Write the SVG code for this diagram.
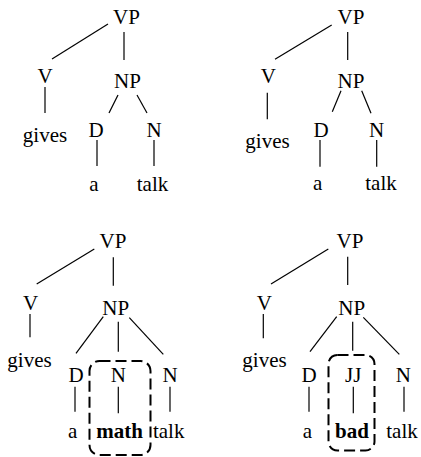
<svg xmlns="http://www.w3.org/2000/svg" width="421" height="457" viewBox="0 0 421 457">
<style>
text{font-family:'Times New Roman',Times,'Liberation Serif','DejaVu Serif','Noto Serif',Tinos,FreeSerif,serif;font-size:21px;fill:#000;text-anchor:middle}
.b{font-weight:bold}
.e line{stroke:#000;stroke-width:1.2}
.box{fill:none;stroke:#000;stroke-width:2;stroke-dasharray:11,5}
</style>
<rect width="421" height="457" fill="#fff"/>
<g id="edges" class="e">
<line x1="108" y1="24" x2="52" y2="59"/>
<line x1="124" y1="32" x2="124" y2="60"/>
<line x1="45" y1="87" x2="45" y2="113"/>
<line x1="118" y1="95" x2="109" y2="113"/>
<line x1="137" y1="95" x2="147" y2="113"/>
<line x1="97" y1="140" x2="97" y2="166"/>
<line x1="154" y1="140" x2="154" y2="166"/>

<line x1="331.7" y1="25" x2="275" y2="59.3"/>
<line x1="347.7" y1="32" x2="347.7" y2="60"/>
<line x1="267.3" y1="92.7" x2="267.3" y2="119.3"/>
<line x1="341" y1="90.7" x2="332.3" y2="111.7"/>
<line x1="361.7" y1="90.7" x2="371" y2="113.3"/>
<line x1="320" y1="140" x2="320" y2="166.7"/>
<line x1="376.7" y1="140" x2="376.7" y2="166.7"/>

<line x1="94.3" y1="249" x2="36.7" y2="284"/>
<line x1="113.3" y1="257.3" x2="113.3" y2="285.7"/>
<line x1="30" y1="314" x2="30" y2="337.3"/>
<line x1="103.3" y1="316.7" x2="76" y2="353.3"/>
<line x1="118.3" y1="321.7" x2="118.3" y2="351.7"/>
<line x1="129.3" y1="317.7" x2="163.3" y2="354.3"/>
<line x1="75" y1="386.7" x2="75" y2="411.7"/>
<line x1="118.3" y1="386.7" x2="118.3" y2="413.3"/>
<line x1="170" y1="386.7" x2="170" y2="411.7"/>

<line x1="328.3" y1="249" x2="271" y2="284"/>
<line x1="347.7" y1="256.7" x2="347.7" y2="285"/>
<line x1="263.3" y1="314" x2="263.3" y2="338.3"/>
<line x1="336.7" y1="316.7" x2="310" y2="351.7"/>
<line x1="352.7" y1="321.7" x2="352.7" y2="350.7"/>
<line x1="363.3" y1="317.3" x2="399.3" y2="354.3"/>
<line x1="309" y1="386.7" x2="309" y2="411.7"/>
<line x1="353.3" y1="386.7" x2="353.3" y2="413.3"/>
<line x1="404" y1="386.7" x2="404" y2="411.7"/>
</g>

<g id="t1-vp"><text x="126.5" y="23.5">VP</text></g>
<g id="t1-v"><text x="45" y="83">V</text></g>
<g id="t1-np"><text x="127.5" y="88">NP</text></g>
<g id="t1-gives"><text x="45" y="142">gives</text></g>
<g id="t1-d"><text x="96" y="136.5">D</text></g>
<g id="t1-n"><text x="154" y="136.5">N</text></g>
<g id="t1-a"><text x="94" y="191">a</text></g>
<g id="t1-talk"><text x="152.5" y="191">talk</text></g>

<g id="t2-vp"><text x="351" y="24">VP</text></g>
<g id="t2-v"><text x="268.3" y="83">V</text></g>
<g id="t2-np"><text x="351" y="88">NP</text></g>
<g id="t2-gives"><text x="267.5" y="148">gives</text></g>
<g id="t2-d"><text x="321" y="137">D</text></g>
<g id="t2-n"><text x="376.7" y="137">N</text></g>
<g id="t2-a"><text x="317.7" y="189.5">a</text></g>
<g id="t2-talk"><text x="381" y="189.5">talk</text></g>

<g id="t3-vp"><text x="113" y="248">VP</text></g>
<g id="t3-v"><text x="30.7" y="310">V</text></g>
<g id="t3-np"><text x="115.8" y="315">NP</text></g>
<g id="t3-gives"><text x="29.5" y="367">gives</text></g>
<g id="t3-d"><text x="76" y="382">D</text></g>
<g id="t3-n1"><text x="118.3" y="382">N</text></g>
<g id="t3-n2"><text x="170" y="382">N</text></g>
<g id="t3-a"><text x="72.7" y="438">a</text></g>
<g id="t3-math"><text class="b" x="119.5" y="438">math</text><rect class="box" x="89.5" y="361" width="61" height="94" rx="10"/></g>
<g id="t3-talk"><text x="168.7" y="438">talk</text></g>

<g id="t4-vp"><text x="350" y="248">VP</text></g>
<g id="t4-v"><text x="264.3" y="310">V</text></g>
<g id="t4-np"><text x="351.7" y="315">NP</text></g>
<g id="t4-gives"><text x="264.5" y="367">gives</text></g>
<g id="t4-d"><text x="309" y="382">D</text></g>
<g id="t4-jj"><text x="353.3" y="382">JJ</text></g>
<g id="t4-n"><text x="403.3" y="382">N</text></g>
<g id="t4-a"><text x="307.3" y="438">a</text></g>
<g id="t4-bad"><text class="b" x="352" y="438">bad</text><rect class="box" x="328.5" y="355" width="46" height="95.5" rx="9"/></g>
<g id="t4-talk"><text x="402" y="438">talk</text></g>
</svg>
